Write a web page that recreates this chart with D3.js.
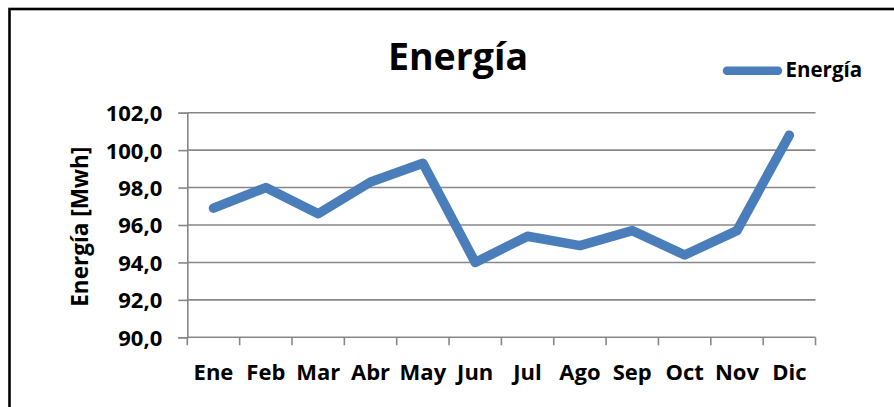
<!DOCTYPE html>
<html>
<head>
<meta charset="utf-8">
<script src="https://d3js.org/d3.v7.min.js"></script>
<style>
  html, body { margin: 0; padding: 0; background: #fff; }
  svg { display: block; font-family: "Open Sans", sans-serif; font-weight: bold; }
</style>
</head>
<body>
<svg id="chart" width="894" height="407"></svg>
<script>
// ---- data ----
const months = ["Ene", "Feb", "Mar", "Abr", "May", "Jun", "Jul", "Ago", "Sep", "Oct", "Nov", "Dic"];
const energia = [96.9, 98.0, 96.6, 98.3, 99.3, 94.0, 95.4, 94.9, 95.7, 94.4, 95.7, 100.8];
const yTicks = [90, 92, 94, 96, 98, 100, 102];
const chartTitle = "Energía";
const seriesName = "Energía";
const yAxisTitle = "Energía [Mwh]";

// ---- layout ----
const svg = d3.select("#chart");
const plot = { left: 187.3, right: 815.5, top: 112.7, bottom: 337.3 };
const lineColor = "#4A7EBB";
const gridColor = "#878787";

// outer border (extends beyond picture right/bottom)
svg.append("rect")
  .attr("x", 9.5).attr("y", 9)
  .attr("width", 900).attr("height", 420)
  .attr("fill", "none").attr("stroke", "#000").attr("stroke-width", 2.6);

const x = d3.scaleBand().domain(months).range([plot.left, plot.right]).padding(0);
const y = d3.scaleLinear().domain([90, 102]).range([plot.bottom, plot.top]);

// gridlines
svg.append("g").selectAll("line").data(yTicks.filter(d => d !== 90)).join("line")
  .attr("x1", plot.left).attr("x2", plot.right)
  .attr("y1", d => y(d)).attr("y2", d => y(d))
  .attr("stroke", gridColor).attr("stroke-width", 1.6);

// y axis
const fmt = d => d3.format(".1f")(d).replace(".", ",");
const yAxis = svg.append("g")
  .attr("transform", `translate(${plot.left},0)`)
  .call(d3.axisLeft(y).tickValues(yTicks).tickFormat(fmt).tickSize(9).tickPadding(16));
yAxis.select(".domain").attr("stroke", gridColor).attr("stroke-width", 1.6);
yAxis.selectAll(".tick line").attr("stroke", gridColor).attr("stroke-width", 1.6);
yAxis.selectAll(".tick text")
  .attr("font-family", "Open Sans").attr("font-weight", "bold")
  .attr("font-size", 22).attr("fill", "#000").attr("dy", "0.36em");

// x axis baseline and boundary ticks
const xg = svg.append("g");
xg.append("line")
  .attr("x1", plot.left).attr("x2", plot.right)
  .attr("y1", y(90)).attr("y2", y(90))
  .attr("stroke", gridColor).attr("stroke-width", 1.6);
const boundaries = months.map(m => x(m)).concat([x.range()[1]]);
xg.selectAll("line.tk").data(boundaries).join("line").attr("class", "tk")
  .attr("x1", d => d).attr("x2", d => d)
  .attr("y1", y(90)).attr("y2", y(90) + 8)
  .attr("stroke", gridColor).attr("stroke-width", 1.6);
xg.selectAll("text").data(months).join("text")
  .attr("x", d => x(d) + x.bandwidth() / 2)
  .attr("y", 379.5)
  .attr("text-anchor", "middle")
  .attr("font-size", 22).attr("fill", "#000")
  .text(d => d);

// line
const line = d3.line()
  .x((d, i) => x(months[i]) + x.bandwidth() / 2)
  .y(d => y(d));
svg.append("path").datum(energia)
  .attr("d", line)
  .attr("fill", "none").attr("stroke", lineColor)
  .attr("stroke-width", 9.5)
  .attr("stroke-linecap", "round").attr("stroke-linejoin", "round");

// title
svg.append("text")
  .attr("x", 458).attr("y", 70)
  .attr("text-anchor", "middle")
  .attr("font-size", 37.5).attr("fill", "#000")
  .text(chartTitle);

// y axis title
svg.append("text")
  .attr("transform", "translate(87.5,226.7) rotate(-90)")
  .attr("text-anchor", "middle")
  .attr("font-size", 22.5).attr("fill", "#000")
  .text(yAxisTitle);

// legend
svg.append("line")
  .attr("x1", 727).attr("x2", 778)
  .attr("y1", 70.7).attr("y2", 70.7)
  .attr("stroke", lineColor).attr("stroke-width", 8.5)
  .attr("stroke-linecap", "round");
svg.append("text")
  .attr("x", 785.5).attr("y", 77.3)
  .attr("font-size", 20.5).attr("fill", "#000")
  .text(seriesName);
</script>
</body>
</html>
